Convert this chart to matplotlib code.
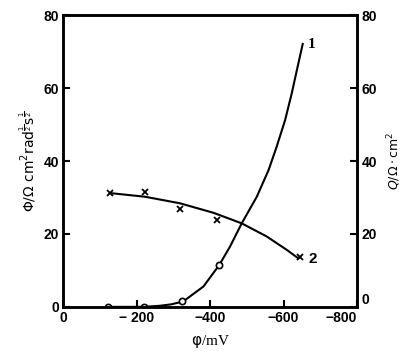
import matplotlib
matplotlib.use("Agg")
from matplotlib import pyplot as plt
from matplotlib.font_manager import FontProperties

# curve 1 (Q, open circles)
phi1 = [-122, -220, -324, -424]
q1 = [0, 0, 1.5, 11.5]
phi1_line = [-122, -220, -264, -295, -327, -382, -425, -454, -486, -527,
             -559, -581, -604, -622, -636, -652]
q1_line = [0, 0, 0.3, 0.7, 1.5, 5.6, 11.5, 16.5, 22.9, 30.2,
           37.5, 43.9, 51.2, 58.5, 64.9, 72.1]

# curve 2 (Phi, crosses)
phi2 = [-128, -223, -318, -418, -645]
f2 = [31.2, 31.6, 26.8, 23.8, 13.6]
phi2_line = [-128, -223, -318, -409, -486, -554, -609, -640]
f2_line = [31.2, 30.2, 28.4, 25.8, 22.9, 19.3, 15.6, 13.3]

xticks = [0, -200, -400, -600, -800]
xticklabels = ["0", "− 200", "−400", "−600", "−800"]
yticks = [0, 20, 40, 60, 80]

fig = plt.figure(figsize=(4.10, 3.61), dpi=100)
ax = fig.add_axes([0.154, 0.150, 0.717, 0.808])

ax.plot(phi1_line, q1_line, "k-", lw=1.5)
ax.plot(phi1, q1, "o", mfc="white", mec="black", ms=4.5, mew=1.2)
ax.plot(phi2_line, f2_line, "k-", lw=1.5)
ax.plot(phi2, f2, "x", color="black", ms=4, mew=1.3)

ax.set_xlim(0, -800)
ax.set_ylim(0, 80)
ax.set_xticks(xticks)
ax.set_xticklabels(xticklabels)
ax.set_yticks(yticks)

bold = FontProperties(family="Liberation Sans", weight="bold", size=10)
for lab in ax.get_xticklabels() + ax.get_yticklabels():
    lab.set_fontproperties(bold)
ax.get_xticklabels()[-1].set_ha("right")
ax.tick_params(direction="in", length=5, width=1.5, pad=3)

for s in ax.spines.values():
    s.set_linewidth(1.8)

ax2 = ax.twinx()
ax2.set_ylim(0, 80)
ax2.set_yticks(yticks)
for lab in ax2.get_yticklabels():
    lab.set_fontproperties(bold)
ax2.get_yticklabels()[0].set_va("bottom")
ax2.tick_params(direction="in", length=5, width=1.5, pad=3)
for s in ax2.spines.values():
    s.set_linewidth(1.8)

ax.text(-666, 72, "1", fontsize=11, weight="bold", family="Liberation Serif", va="center")
ax.text(-668, 13.0, "2", fontsize=11, weight="bold", family="Liberation Sans", va="center")

ax.set_xlabel(r"$\mathrm{\varphi}$/mV", fontsize=11, family="Liberation Serif", labelpad=6)
ax.set_ylabel(r"$\Phi/\Omega\ \mathrm{cm^2 rad^{\frac{1}{2}} s^{\frac{1}{2}}}$",
              fontsize=10, labelpad=4)
ax2.set_ylabel(r"$Q/\Omega\cdot\mathrm{cm^2}$", fontsize=9, labelpad=6, rotation=90)

fig.savefig("out.png", dpi=100)
